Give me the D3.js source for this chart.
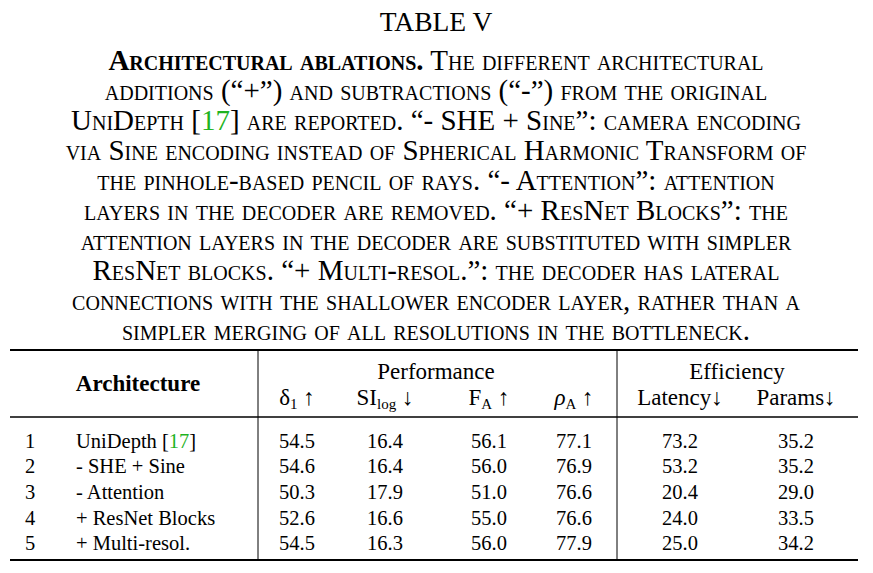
<!DOCTYPE html>
<html><head><meta charset="utf-8">
<script src="https://cdn.jsdelivr.net/npm/d3@7"></script>
<style>body{margin:0;background:#fff}text{font-family:"Liberation Serif","Times New Roman",serif;fill:#000}</style>
</head><body>
<script>
const title = "TABLE V";
// caption lines: arrays of [text, style] with style "b" bold, "c" citation, "" normal
const captionLines = [
  [["Architectural ablations.", "b"], [" The different architectural", ""]],
  [["additions (“+”) and subtractions (“-”) from the original", ""]],
  [["UniDepth [", ""], ["17", "c"], ["] are reported. “- SHE + Sine”: camera encoding", ""]],
  [["via Sine encoding instead of Spherical Harmonic Transform of", ""]],
  [["the pinhole-based pencil of rays. “- Attention”: attention", ""]],
  [["layers in the decoder are removed. “+ ResNet Blocks”: the", ""]],
  [["attention layers in the decoder are substituted with simpler", ""]],
  [["ResNet blocks. “+ Multi-resol.”: the decoder has lateral", ""]],
  [["connections with the shallower encoder layer, rather than a", ""]],
  [["simpler merging of all resolutions in the bottleneck.", ""]]
];
const ids = ["1", "2", "3", "4", "5"];
const architectures = ["UniDepth", "- SHE + Sine", "- Attention", "+ ResNet Blocks", "+ Multi-resol."];
const delta1 = [54.5, 54.6, 50.3, 52.6, 54.5];
const silog = [16.4, 16.4, 17.9, 16.6, 16.3];
const fa = [56.1, 56.0, 51.0, 55.0, 56.0];
const rhoa = [77.1, 76.9, 76.6, 76.6, 77.9];
const latency = [73.2, 53.2, 20.4, 24.0, 25.0];
const params = [35.2, 35.2, 29.0, 33.5, 34.2];
const valueCols = [delta1, silog, fa, rhoa, latency, params];
const colX = [297, 385, 489, 574, 680, 796];

const svg = d3.select("body").append("svg").attr("width", 873).attr("height", 573);
svg.append("text").attr("x", 436).attr("y", 31).attr("text-anchor", "middle")
  .attr("font-size", 27.5).text(title);

const cap = svg.selectAll("text.cap").data(captionLines).enter().append("text")
  .attr("class", "cap").attr("x", 436).attr("y", (d, i) => 70 + i * 30)
  .attr("text-anchor", "middle").attr("font-size", 29).style("font-variant", "small-caps");
cap.selectAll("tspan").data(d => d).enter().append("tspan")
  .attr("font-weight", d => d[1] === "b" ? "bold" : null)
  .style("fill", d => d[1] === "c" ? "#1fb31f" : null)
  .text(d => d[0]);

const y = d3.scaleBand().domain(ids).range([428, 556]);
const rule = (y0, w) => svg.append("line").attr("x1", 10).attr("x2", 858).attr("y1", y0).attr("y2", y0)
  .attr("stroke", "#000").attr("stroke-width", w);
rule(350, 2.2); rule(417, 1.3); rule(560, 2.2);
[258, 617].forEach(x => svg.append("line").attr("x1", x).attr("x2", x).attr("y1", 351).attr("y2", 559)
  .attr("stroke", "#000").attr("stroke-width", 1));

const fs = 20.5, hs = 23;
svg.append("text").attr("x", 138).attr("y", 391).attr("text-anchor", "middle").attr("font-size", hs)
  .attr("font-weight", "bold").text("Architecture");
svg.append("text").attr("x", 436).attr("y", 379).attr("text-anchor", "middle").attr("font-size", hs).text("Performance");
svg.append("text").attr("x", 737).attr("y", 379).attr("text-anchor", "middle").attr("font-size", hs).text("Efficiency");

const heads = [
  [["δ", ""], ["1", "sub"], [" ↑", ""]],
  [["SI", ""], ["log", "sub"], [" ↓", ""]],
  [["F", ""], ["A", "sub"], [" ↑", ""]],
  [["ρ", "i"], ["A", "sub"], [" ↑", ""]],
  [["Latency↓", ""]],
  [["Params↓", ""]]
];
const ht = svg.selectAll("text.head").data(heads).enter().append("text").attr("class", "head")
  .attr("x", (d, i) => colX[i]).attr("y", 405).attr("text-anchor", "middle").attr("font-size", hs);
ht.selectAll("tspan").data(d => d).enter().append("tspan")
  .attr("font-size", d => d[1] === "sub" ? 15 : null)
  .attr("font-style", d => d[1] === "i" ? "italic" : null)
  .attr("dy", (d, i, n) => d[1] === "sub" ? 4 : (i > 0 && n[i - 1].__data__[1] === "sub" ? -4 : null))
  .text(d => d[0]);

const rows = svg.selectAll("g.row").data(ids).enter().append("g").attr("class", "row")
  .attr("transform", d => `translate(0,${y(d) + y.bandwidth() / 2 + 7})`);
rows.append("text").attr("x", 30).attr("text-anchor", "middle").attr("font-size", fs).text(d => d);
const nm = rows.append("text").attr("x", 76).attr("font-size", fs);
nm.append("tspan").text((d, i) => architectures[i]);
nm.filter((d, i) => i === 0).each(function () {
  const t = d3.select(this);
  t.append("tspan").text(" [");
  t.append("tspan").style("fill", "#1fb31f").text("17");
  t.append("tspan").text("]");
});
valueCols.forEach((col, c) => {
  rows.append("text").attr("x", colX[c]).attr("text-anchor", "middle").attr("font-size", fs)
    .text((d, i) => col[i].toFixed(1));
});
</script>
</body></html>
